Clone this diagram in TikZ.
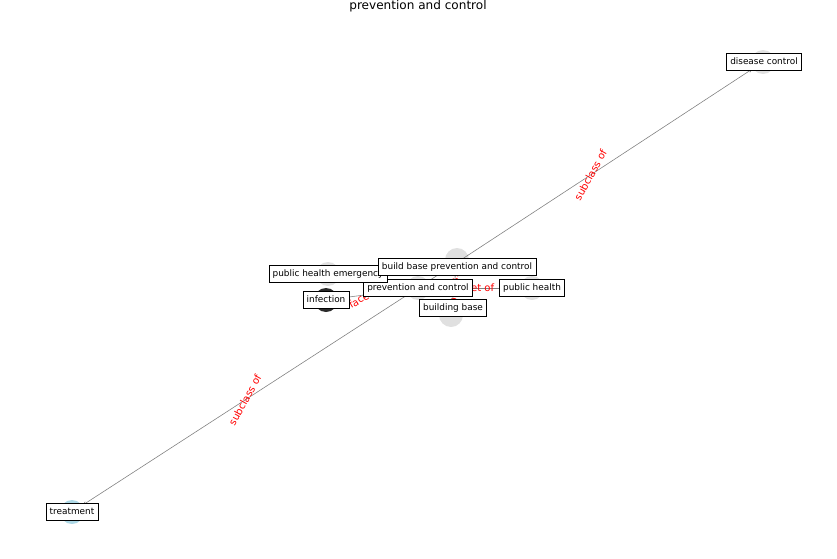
\documentclass[tikz,border=0pt]{standalone}
\usepackage{fontspec}
\setmainfont{DejaVu Sans}
\usetikzlibrary{arrows.meta}
\definecolor{dotgray}{HTML}{E0E0E0}
\definecolor{dotblue}{HTML}{ADD8E6}
\definecolor{dotdark}{HTML}{2B2B2B}
\tikzset{
	dot/.style={circle, minimum size=0.72cm, inner sep=0pt, fill=#1},
	tag/.style={draw, fill=white, line width=0.5pt, font=\fontsize{7.6}{9}\selectfont,
		inner xsep=3.2pt, inner ysep=3pt, text height=6.4pt, text depth=1.8pt},
	rel/.style={draw=gray, line width=0.5pt, -{Stealth[length=4pt, width=3pt]}},
	rellabel/.style={text=red, font=\fontsize{8.6}{10}\selectfont, inner sep=0pt}
}
\begin{document}
\begin{tikzpicture}[x=0.03cm, y=-0.03cm]
		\useasboundingbox (0,0) rectangle (837,559);

		\node at (418,6) {\fontsize{10.3}{12}\selectfont prevention and control};

		\node[dot=dotgray] (pc)  at (418,288) {};
		\node[dot=dotgray] (dc)  at (763, 62) {};
		\node[dot=dotblue] (tr)  at ( 72,512) {};
		\node[dot=dotgray] (phe) at (328,274) {};
		\node[dot=dotdark] (inf) at (326,300) {};
		\node[dot=dotgray] (bb)  at (457,260) {};
		\node[dot=dotgray] (ph)  at (532,288) {};
		\node[dot=dotgray] (bld) at (451,315) {};

		\draw[rel] (pc)  -- node[rellabel, midway, rotate=61] {subclass of} (dc);
		\draw[rel] (pc)  -- node[rellabel, midway, rotate=61] {subclass of} (tr);
		\draw[rel] (pc)  -- node[rellabel, midway] {facet of}    (ph);
		\draw[rel] (bb)  -- node[rellabel, midway, rotate=86] {subclass of} (bld);
		\draw[rel] (inf) -- (pc);
		\node[rellabel, rotate=30] (inf-r) at (366,296) {facet of};

		\node[tag] (pc-l)  at (418,288) {prevention and control};
		\node[tag] (dc-l)  at (764, 62) {disease control};
		\node[tag] (tr-l)  at ( 72,512) {treatment};
		\node[tag] (phe-l) at (328,274) {public health emergency};
		\node[tag] (inf-l) at (326,300) {infection};
		\node[tag] (bb-l)  at (457,267) {build base prevention and control};
		\node[tag] (ph-l)  at (532,288) {public health};
		\node[tag] (bld-l) at (453,308) {building base};
	\end{tikzpicture}
\end{document}
